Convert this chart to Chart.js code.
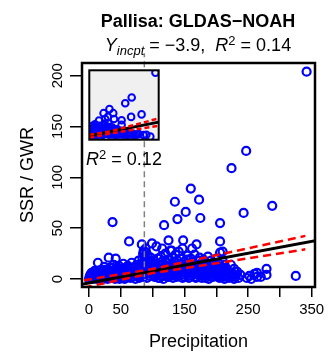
<!DOCTYPE html>
<html>
<head>
<meta charset="utf-8">
<script src="https://cdn.jsdelivr.net/npm/chart.js@4.4.0/dist/chart.umd.min.js"></script>
<style>
  body { margin: 0; background: #fff; }
  #wrap { position: relative; width: 334px; height: 361px; }
  #main { position: absolute; left: 0; top: 0; }
  #inset { position: absolute; left: 84px; top: 65px; }
</style>
</head>
<body>
<div id="wrap">
  <canvas id="main" width="334" height="361"></canvas>
  <canvas id="inset" width="80" height="80"></canvas>
</div>
<script>
'use strict';

// precipitation vs SSR/GWR
const mainPoints = [
  [0,0],[1,2],[2,4],[3,1],[4,6],[5,0],[6,3],[7,5],[8,1],[9,8],[10,2],[12,0],[13,4],[14,7],[14,16],[15,1],[16,3],[17,5],[18,0],[19,9],[20,2],
  [21,4],[22,0],[23,7],[24,12],[25,1],[26,3],[27,6],[28,9],[29,0],[30,2],[31,5],[31,21],[33,11],[34,3],[35,8],[36,11],[37,1],[37,56],[38,4],
  [39,14],[40,6],[41,0],[42,20],[43,3],[44,9],[45,2],[46,7],[47,13],[48,0],[49,5],[50,10],
  [51,3],[52,1],[53,8],[54,15],[55,4],[56,0],[57,11],[58,6],[59,2],[60,9],[61,13],[62,3],[63,37],[64,7],[65,1],[66,5],[67,16],[68,10],[69,2],
  [70,8],[71,4],[72,12],[73,0],[74,6],[75,14],[76,3],[77,9],[78,18],[79,1],[80,7],
  [81,4],[82,11],[83,15],[83,34],[84,20],[85,25],[85,8],[86,28],[86,2],[87,18],[87,12],[88,22],[88,5],[89,30],[89,15],[90,26],[90,9],
  [91,19],[91,1],[92,23],[93,13],[93,6],[94,17],[95,3],[96,10],[97,21],[98,7],[99,35],[99,14],[100,4],
  [101,12],[102,18],[103,2],[104,8],[105,15],[106,32],[106,5],[107,11],[108,20],[109,1],[110,9],[111,14],[112,6],[113,22],[114,3],
  [115,30],[115,17],[116,10],[117,0],[118,53],[118,7],[119,13],[120,25],[121,4],[122,16],[123,9],[124,19],[125,38],[125,2],[126,12],
  [127,6],[128,28],[129,15],[130,8],[130,28],[131,21],[132,1],[133,11],[134,17],[135,76],[135,5],[136,24],[137,13],[138,9],[139,59],
  [139,18],[140,3],[141,27],[142,12],[143,7],[144,15],[145,20],[146,4],[147,30],[148,38],[148,10],[149,16],[150,2],
  [151,13],[152,66],[152,8],[153,19],[154,5],[155,23],[156,11],[157,1],[158,15],[159,7],[160,89],[160,20],[161,3],[162,30],[162,12],
  [163,17],[164,6],[165,10],[166,24],[167,2],[168,14],[169,34],[170,8],[171,18],[172,4],[173,78],[173,11],[174,21],[175,60],[175,6],
  [176,15],[177,1],[178,9],[179,13],[180,19],[181,5],[182,10],[183,16],[184,3],[185,7],[186,12],[187,22],[188,0],[189,9],[190,14],
  [191,4],[192,18],[193,7],[194,11],[195,2],[196,16],[197,8],[198,5],[199,13],[200,20],[201,3],[202,10],[203,6],[204,15],[205,1],
  [206,55],[206,37],[206,26],[207,8],[208,12],[209,4],[210,27],[210,18],[211,9],[212,2],[213,14],[214,6],[215,11],[216,3],[218,8],[220,1],
  [223,14],[224,109],[226,5],[228,10],[230,2],[233,7],[235,1],[238,4],[243,65],[247,126],[248,1],[252,3],[255,0],[260,5],
  [264,6],[264,2],[270,2],[279,10],[279,4],[288,72],[325,3],[342,204],
  [102,3],[105,7],[108,4],[111,1],[114,9],[117,5],[120,11],[123,2],[126,7],[129,3],[132,9],[135,12],[138,2],[141,6],[144,10],
  [147,1],[150,7],[153,12],[156,3],[159,9],[162,5],[165,14],[168,1],[171,8],[174,3],[177,11],[180,6],[183,1],[186,4],[189,12],
  [192,2],[195,8],[198,11],[201,6],[204,2],[207,3],[210,6],[213,0],[216,9],[219,4],[222,6],[225,2],[228,0],[231,4],
  [52,6],[56,9],[60,4],[64,11],[68,5],[72,8],[76,12],[80,3],[84,14],[88,9],[92,16],[96,6],[100,16],[45,11],[40,3],[35,1],
  [30,7],[25,9],[20,6],[10,5],[5,3]
];

// regression line and confidence band (main panel)
const fitLine = [[-11,-5.2],[356,37.8]];
const ciUpper = [[-8,-1.2],[100,9.8],[340,42.4]];
const ciLower = [[-8,-8.4],[100,5.8],[340,29.2]];
const markerX = 87;

// inset panel
const insetPoints = [
  [0,0],[3,8],[5,20],[8,30],[10,3],[12,14],[15,25],[18,5],[20,35],[22,10],[25,18],[28,0],[30,28],[33,12],[35,4],[38,22],[40,8],
  [41,47],[43,30],[45,2],[48,16],[50,25],[52,6],[55,12],[58,20],[60,0],[62,30],[65,71],[65,9],[68,15],[70,37],[70,24],[72,4],
  [74,52],[75,13],[78,20],[80,6],[82,27],[85,10],[88,59],[88,18],[90,38],[90,3],[92,22],[95,14],[96,84],[98,8],[100,26],[102,16],
  [105,2],[108,20],[110,11],[112,24],[115,6],[116,71],[118,15],[120,52],[120,3],[122,18],[125,9],[128,13],[130,1],[132,19],[135,7],
  [138,12],[140,4],[142,16],[145,9],[148,2],[150,11],[155,6],[158,14],[160,48],[160,33],[162,3],[165,9],[170,1],[175,12],[179,103],
  [180,5],[185,8],[190,0],[195,10],[200,3],[205,6],[210,59],[213,122],[215,1],[220,4],[230,0],[240,2],[250,3],[265,67],[275,0],
  [290,1],[311,-5],[338,202],
  [5,10],[15,2],[25,6],[35,15],[45,9],[55,3],[65,18],[75,5],[85,16],[95,2],[105,10],[115,14],[125,1],[135,15],[145,3],[155,10]
];
const insetFit = [[-10,-2],[355,42]];
const insetUpper = [[-10,1],[100,12],[355,54]];
const insetLower = [[-10,-9],[100,5],[355,30]];

const xTickLabels = [0, 50, 150, 250, 350];

const FONT = '"Liberation Sans", Arial, sans-serif';
Chart.defaults.font.family = FONT;
Chart.defaults.color = '#000';

const toXY = arr => arr.map(p => ({x: p[0], y: p[1]}));

const drawRich = function(ctx, parts, cx, y) {
  let w = 0;
  parts.forEach(p => { ctx.font = p.font; w += ctx.measureText(p.text).width; });
  let x = cx - w / 2;
  ctx.textAlign = 'left';
  ctx.textBaseline = 'alphabetic';
  parts.forEach(p => {
    ctx.font = p.font;
    ctx.fillText(p.text, x, y + (p.dy || 0));
    x += ctx.measureText(p.text).width;
  });
};

const decor = {
  id: 'decor',
  afterDraw(chart) {
    const {ctx, chartArea: a} = chart;
    ctx.save();
    ctx.strokeStyle = '#000';
    ctx.lineWidth = 2.5;
    ctx.strokeRect(a.left, a.top, a.right - a.left, a.bottom - a.top);

    ctx.fillStyle = '#000';
    ctx.font = 'bold 18px ' + FONT;
    ctx.textAlign = 'center';
    ctx.textBaseline = 'alphabetic';
    ctx.fillText('Pallisa: GLDAS\u2212NOAH', 198, 27);

    drawRich(ctx, [
      {text: 'Y', font: 'italic 18px ' + FONT},
      {text: 'incpt', font: 'italic 13px ' + FONT, dy: 4},
      {text: ' = \u22123.9,  ', font: '18px ' + FONT},
      {text: 'R', font: 'italic 18px ' + FONT},
      {text: '2', font: '13px ' + FONT, dy: -6},
      {text: ' = 0.14', font: '18px ' + FONT}
    ], 198, 51);

    drawRich(ctx, [
      {text: 'R', font: 'italic 18px ' + FONT},
      {text: '2', font: '13px ' + FONT, dy: -6},
      {text: ' = 0.12', font: '18px ' + FONT}
    ], 124, 165);
    ctx.restore();
  }
};

new Chart(document.getElementById('main').getContext('2d'), {
  type: 'scatter',
  data: {
    datasets: [{
      data: toXY(ciUpper), showLine: true, pointRadius: 0,
      borderColor: '#FF0000', borderWidth: 2.5, borderDash: [8, 5]
    }, {
      data: toXY(ciLower), showLine: true, pointRadius: 0,
      borderColor: '#FF0000', borderWidth: 2.5, borderDash: [8, 5]
    }, {
      data: toXY(fitLine), showLine: true, pointRadius: 0,
      borderColor: '#000000', borderWidth: 3
    }, {
      data: [{x: markerX, y: -8}, {x: markerX, y: 222}], showLine: true, pointRadius: 0,
      borderColor: '#808080', borderWidth: 1.5, borderDash: [6, 4],
      clip: {left: 0, top: 12, right: 0, bottom: 0}
    }, {
      data: toXY(mainPoints),
      pointRadius: 4, pointHoverRadius: 4,
      borderColor: '#0000FF', backgroundColor: 'rgba(0,0,0,0)', borderWidth: 2.2
    }]
  },
  options: {
    responsive: false,
    animation: false,
    devicePixelRatio: 1,
    layout: {padding: {top: 63, right: 19, left: 0, bottom: 0}},
    plugins: {legend: {display: false}, tooltip: {enabled: false}},
    scales: {
      x: {
        type: 'linear', min: -11, max: 355.2,
        afterFit: s => { s.height = 74; },
        border: {display: false},
        grid: {drawOnChartArea: false, drawTicks: true, tickLength: 10, color: '#000', lineWidth: 1.5},
        ticks: {
          stepSize: 50, includeBounds: false, autoSkip: false, maxRotation: 0,
          padding: 4, font: {size: 15}, color: '#000',
          callback: v => xTickLabels.includes(v) ? String(v) : ''
        },
        title: {display: true, text: 'Precipitation', font: {size: 18}, color: '#000', padding: {top: 0, bottom: 8}}
      },
      y: {
        type: 'linear', min: -7.87, max: 212.5,
        afterFit: s => { s.width = 82; },
        border: {display: false},
        grid: {drawOnChartArea: false, drawTicks: true, tickLength: 12, color: '#000', lineWidth: 1.5},
        ticks: {
          stepSize: 50, includeBounds: false, minRotation: 90, maxRotation: 90,
          crossAlign: 'center', padding: 0, font: {size: 15}, color: '#000'
        },
        title: {display: true, text: 'SSR / GWR', font: {size: 18}, color: '#000', padding: {top: 17, bottom: 0}}
      }
    }
  },
  plugins: [decor]
});

const insetFrame = {
  id: 'insetFrame',
  beforeDatasetsDraw(chart) {
    const {ctx, chartArea: a} = chart;
    ctx.save();
    ctx.fillStyle = '#F0F0F0';
    ctx.fillRect(a.left, a.top, a.right - a.left, a.bottom - a.top);
    ctx.restore();
  },
  afterDraw(chart) {
    const {ctx, chartArea: a} = chart;
    ctx.save();
    ctx.strokeStyle = '#000';
    ctx.lineWidth = 2;
    ctx.strokeRect(a.left, a.top, a.right - a.left, a.bottom - a.top);
    ctx.restore();
  }
};

new Chart(document.getElementById('inset').getContext('2d'), {
  type: 'scatter',
  data: {
    datasets: [{
      data: toXY(insetUpper), showLine: true, pointRadius: 0,
      borderColor: '#FF0000', borderWidth: 2.5, borderDash: [5, 3]
    }, {
      data: toXY(insetLower), showLine: true, pointRadius: 0,
      borderColor: '#FF0000', borderWidth: 2.5, borderDash: [5, 3]
    }, {
      data: toXY(insetFit), showLine: true, pointRadius: 0,
      borderColor: '#000000', borderWidth: 3
    }, {
      data: toXY(insetPoints),
      pointRadius: 3.3, pointHoverRadius: 3.3,
      borderColor: '#0000FF', backgroundColor: 'rgba(0,0,0,0)', borderWidth: 2
    }]
  },
  options: {
    responsive: false,
    animation: false,
    devicePixelRatio: 1,
    layout: {padding: 1},
    plugins: {legend: {display: false}, tooltip: {enabled: false}},
    scales: {
      x: {type: 'linear', min: -10, max: 355, display: false},
      y: {type: 'linear', min: -15, max: 210, display: false}
    }
  },
  plugins: [insetFrame]
});
</script>
</body>
</html>
